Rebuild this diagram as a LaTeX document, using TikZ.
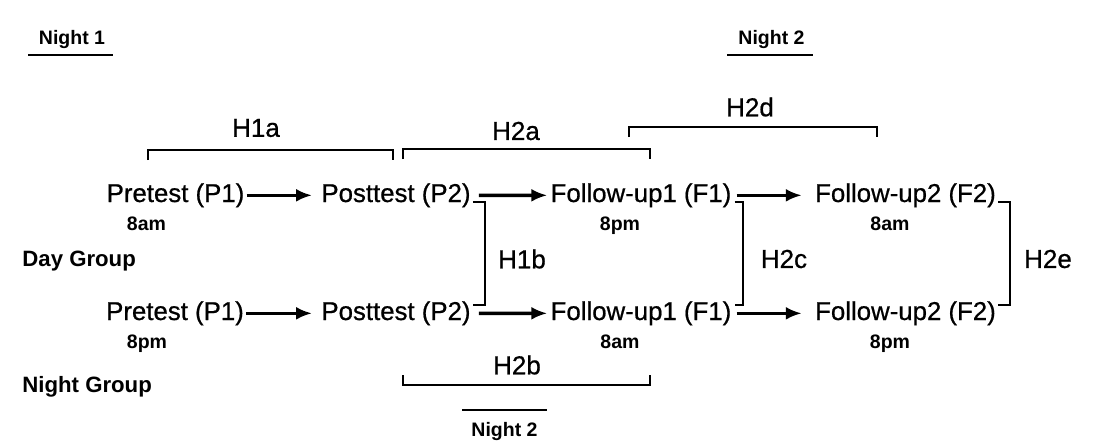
\documentclass[tikz,border=0pt]{standalone}
\usepackage{fontspec}
\setmainfont{Liberation Sans}
\newfontfamily\heavysans{Liberation Sans}[FakeBold=0.7]
\usetikzlibrary{arrows.meta}

\begin{document}
\begin{tikzpicture}[x=0.5pt,y=-0.5pt,
	test/.style={inner sep=0pt, anchor=base, font=\heavysans\fontsize{12.9}{15}\selectfont},
	hyp/.style={inner sep=0pt, font=\heavysans\fontsize{13}{15}\selectfont},
	clock/.style={inner sep=0pt, anchor=base, font=\bfseries\fontsize{9.75}{11}\selectfont},
	group/.style={inner sep=0pt, anchor=base west, font=\bfseries\fontsize{11.1}{13}\selectfont},
	flow/.style={black, line width=1.8pt, -{Latex[length=8pt,width=6.5pt]}},
	brk/.style={black, line width=1pt}]
	\useasboundingbox (0,0) rectangle (1115,445);

	% day group
	\node[test] (P1d) at (175.5,202) {Pretest (P1)};
	\node[test] (P2d) at (396,202) {Posttest (P2)};
	\node[test] (F1d) at (641,202) {Follow-up1 (F1)};
	\node[test] (F2d) at (905.5,202) {Follow-up2 (F2)};
	\node[clock] (t1) at (146.5,230) {8am};
	\node[clock] (t2) at (620,230) {8pm};
	\node[clock] (t3) at (890,230) {8am};
	\node[group] (day) at (22,266) {Day Group};

	% night group
	\node[test] (P1n) at (175,320) {Pretest (P1)};
	\node[test] (P2n) at (396,320) {Posttest (P2)};
	\node[test] (F1n) at (641,320) {Follow-up1 (F1)};
	\node[test] (F2n) at (905.5,320) {Follow-up2 (F2)};
	\node[clock] (b1) at (147,348) {8pm};
	\node[clock] (b2) at (620,348) {8am};
	\node[clock] (b3) at (890,348) {8pm};
	\node[group] (night) at (22,392) {Night Group};

	% nights
	\node[clock] (n1) at (72,44) {Night 1};
	\node[clock] (n2) at (771.5,44) {Night 2};
	\node[clock] (n3) at (504.5,436) {Night 2};
	\draw[brk] (28,55) -- (113,55);
	\draw[brk] (727,55) -- (813,55);
	\draw[brk] (462,410) -- (547,410);

	% arrows
	\draw[flow, shorten <=1pt, shorten >=4.5pt] (P1d) -- (P2d);
	\draw[flow, shorten <=4pt, shorten >=1.5pt] (P2d) -- (F1d);
	\draw[flow, shorten <=2.5pt, shorten >=6.5pt] (F1d) -- (F2d);
	\draw[flow, shorten <=1pt, shorten >=4.5pt] (P1n) -- (P2n);
	\draw[flow, shorten <=4pt, shorten >=1.5pt] (P2n) -- (F1n);
	\draw[flow, shorten <=2.5pt, shorten >=6.5pt] (F1n) -- (F2n);

	% hypotheses
	\node[hyp] (H1a) at (256,128) {H1a};
	\node[hyp] (H2a) at (516,131) {H2a};
	\node[hyp] (H2d) at (750,107) {H2d};
	\node[hyp] (H1b) at (522,259) {H1b};
	\node[hyp] (H2c) at (784,259) {H2c};
	\node[hyp] (H2e) at (1048,259) {H2e};
	\node[hyp] (H2b) at (517,365) {H2b};
	\draw[brk] (148,160) -- (148,150) -- (393,150) -- (393,160);
	\draw[brk] (403,159) -- (403,149) -- (650,149) -- (650,159);
	\draw[brk] (629,137) -- (629,127) -- (877,127) -- (877,137);
	\draw[brk] (403,375) -- (403,385) -- (650,385) -- (650,375);
	\draw[brk] ([xshift=1pt]P2d.base east) -- ++(12,0) |- ([xshift=1pt,yshift=7.5pt]P2n.base east);
	\draw[brk] ([xshift=1.5pt]F1d.base east) -- ++(8,0) |- ([xshift=1.5pt,yshift=7.5pt]F1n.base east);
	\draw[brk] ([xshift=1pt]F2d.base east) -- ++(12,0) |- ([xshift=1pt,yshift=7.5pt]F2n.base east);
\end{tikzpicture}
\end{document}
